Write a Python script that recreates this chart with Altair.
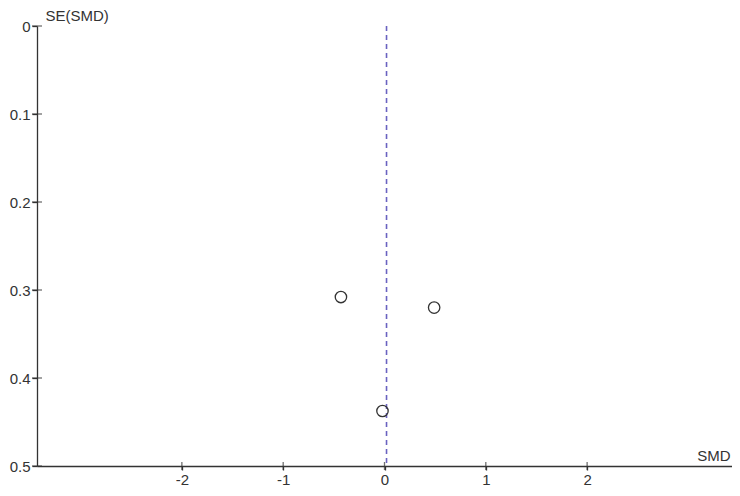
import altair as alt
import pandas as pd

# Study estimates
smd = [-0.43, 0.49, -0.02]
se_smd = [0.308, 0.320, 0.4375]
pooled_smd = [0.02]

x_ticks = [-2, -1, 0, 1, 2]
y_ticks = [0, 0.1, 0.2, 0.3, 0.4, 0.5]

studies = pd.DataFrame({"SMD": smd, "SE": se_smd})
pooled = pd.DataFrame({"SMD": pooled_smd})
xt = pd.DataFrame({"v": x_ticks})
yt = pd.DataFrame({"v": y_ticks})

W, H = 695, 440
ink = "#333333"
FONT = "Liberation Sans"

xscale = alt.Scale(domain=[-3.43, 3.43], nice=False, zero=False)
yscale = alt.Scale(domain=[0, 0.5], reverse=True, nice=False, zero=False)

xaxis = alt.Axis(
    values=x_ticks, title="SMD", grid=False, tickSize=4, labelPadding=2,
    titleX=W - 2, titleY=-6, titleAlign="right", titleBaseline="alphabetic",
    titleFontWeight="normal", labelExpr="datum.value + ''",
)
yaxis = alt.Axis(
    values=y_ticks, title="SE(SMD)", grid=False, tickSize=5, labelPadding=2,
    titleAngle=0, titleX=8, titleY=-6, titleAlign="left",
    titleBaseline="alphabetic", titleFontWeight="normal", labelFlush=False,
    labelExpr="datum.value + ''",
)

points = alt.Chart(studies).mark_point(
    shape="circle", filled=False, size=130, stroke=ink, strokeWidth=1.3, opacity=1
).encode(
    x=alt.X("SMD:Q", scale=xscale, axis=xaxis),
    y=alt.Y("SE:Q", scale=yscale, axis=yaxis),
)

line = alt.Chart(pooled).mark_rule(
    color="#6a62c0", strokeDash=[5, 4], strokeWidth=1.6
).encode(x=alt.X("SMD:Q", scale=xscale))

xtick_marks = alt.Chart(xt).mark_tick(
    orient="vertical", size=8, thickness=1.3, color=ink
).encode(x=alt.X("v:Q", scale=xscale), y=alt.value(H))

ytick_marks = alt.Chart(yt).mark_tick(
    orient="horizontal", size=10, thickness=1.3, color=ink
).encode(y=alt.Y("v:Q", scale=yscale), x=alt.value(0))

chart = alt.layer(line, xtick_marks, ytick_marks, points).properties(
    width=W, height=H,
    autosize=alt.AutoSizeParams(type="none"),
    padding={"left": 29, "top": 18, "right": 0, "bottom": 20},
).configure_view(stroke=None).configure_axis(
    domainColor=ink, domainWidth=1.3, tickColor=ink, tickWidth=1.3,
    labelColor=ink, titleColor=ink, labelFont=FONT, titleFont=FONT,
    labelFontSize=15, titleFontSize=15,
)

chart.save("out.html", embed_options={"renderer": "svg", "actions": False})
